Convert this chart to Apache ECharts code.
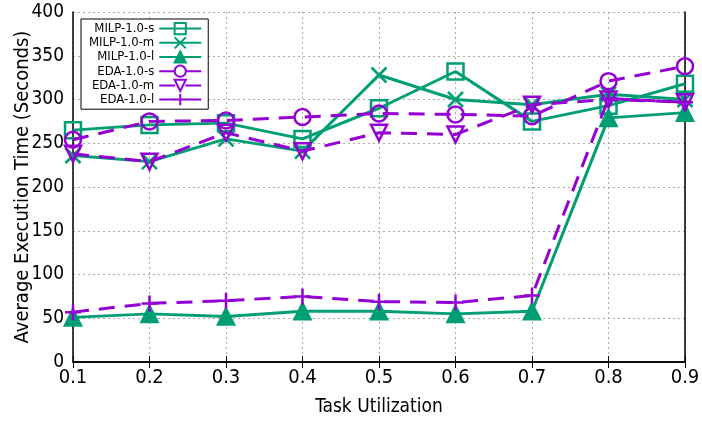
<!DOCTYPE html>
<html>
<head>
<meta charset="utf-8">
<script src="https://cdn.jsdelivr.net/npm/echarts@6/dist/echarts.min.js"></script>
<style>
  html, body { margin: 0; padding: 0; background: #fff; }
  #chart { width: 702px; height: 421px; }
</style>
</head>
<body>
<div id="chart"></div>
<script>
// colours (gnuplot defaults)
const GREEN = '#009e73';
const PURPLE = '#9400d3';
const FONT = '"DejaVu Sans Condensed", "Liberation Sans Narrow", "Liberation Sans", sans-serif';

// data
const utilization = ['0.1', '0.2', '0.3', '0.4', '0.5', '0.6', '0.7', '0.8', '0.9'];
const milpS = [265, 271, 273, 255, 290, 332, 275, 293, 318];
const milpM = [236, 229, 255, 241, 328, 300, 294, 306, 300];
const milpL = [51, 55, 52, 58, 58, 55, 58, 279, 285];
const edaS = [254, 275, 276, 280, 284, 283, 281, 321, 338];
const edaM = [238, 229, 262, 241, 262, 260, 294, 300, 297];
const edaL = [57, 67, 70, 75, 69, 68, 76, 301, 297];

const CROSS = 'path://M0,0L10,10M10,0L0,10';
const PLUS = 'path://M5,0L5,10M0,5L10,5';

const makeSeries = (name, data, color, symbol, opts = {}) => ({
  name,
  type: 'line',
  data,
  symbol,
  symbolSize: opts.size || 16,
  symbolRotate: opts.rotate || 0,
  showSymbol: true,
  lineStyle: {
    color,
    width: 3,
    type: opts.dashed ? [16, 10] : 'solid'
  },
  itemStyle: {
    color: opts.filled ? color : 'rgba(0,0,0,0)',
    borderColor: color,
    borderWidth: 2.5
  },
  emphasis: { disabled: true },
  z: opts.z || 2
});

const chart = echarts.init(document.getElementById('chart'));

const tickStyle = { inside: true, length: 6, lineStyle: { color: '#000', width: 1 } };
const lineBlack = { show: true, lineStyle: { color: '#000', width: 1.5 } };

const option = {
  backgroundColor: '#fff',
  animation: false,
  grid: { left: 73, right: 17, top: 12, bottom: 59, outerBoundsMode: 'none', containLabel: false },
  legend: {
    orient: 'vertical',
    left: 81,
    top: 19,
    align: 'right',
    padding: [3, 6, 3, 8],
    itemGap: 1,
    itemWidth: 42,
    itemHeight: 14,
    borderColor: '#000',
    borderWidth: 1,
    backgroundColor: '#fff',
    textStyle: {
      fontFamily: FONT,
      fontSize: 13,
      color: '#000',
      width: 66,
      align: 'right'
    },
    data: ['MILP-1.0-s', 'MILP-1.0-m', 'MILP-1.0-l', 'EDA-1.0-s', 'EDA-1.0-m', 'EDA-1.0-l']
  },
  xAxis: [
    {
      type: 'category',
      data: utilization,
      boundaryGap: false,
      name: 'Task Utilization',
      nameLocation: 'middle',
      nameGap: 36,
      nameMoveOverlap: false,
      nameTextStyle: { fontFamily: FONT, fontSize: 19, color: '#000' },
      axisLine: lineBlack,
      axisTick: { ...tickStyle, interval: 0 },
      axisLabel: { fontFamily: FONT, fontSize: 20, color: '#000', margin: 6, interval: 0 },
      splitLine: { show: true, interval: 0, lineStyle: { color: '#aaa', type: [2, 3] } }
    },
    {
      type: 'category',
      data: utilization,
      boundaryGap: false,
      position: 'top',
      axisLine: lineBlack,
      axisTick: { ...tickStyle, interval: 0 },
      axisLabel: { show: false },
      splitLine: { show: false }
    }
  ],
  yAxis: [
    {
      type: 'value',
      min: 0,
      max: 400,
      interval: 50,
      name: 'Average Execution Time (Seconds)',
      nameLocation: 'middle',
      nameGap: 40,
      nameMoveOverlap: false,
      nameTextStyle: { fontFamily: FONT, fontSize: 20, color: '#000' },
      axisLine: lineBlack,
      axisTick: tickStyle,
      axisLabel: { fontFamily: FONT, fontSize: 19, color: '#000', margin: 9 },
      splitLine: { show: true, lineStyle: { color: '#aaa', type: [2, 3] } }
    },
    {
      type: 'value',
      min: 0,
      max: 400,
      interval: 50,
      position: 'right',
      axisLine: lineBlack,
      axisTick: tickStyle,
      axisLabel: { show: false },
      splitLine: { show: false }
    }
  ],
  series: [
    makeSeries('MILP-1.0-s', milpS, GREEN, 'rect'),
    makeSeries('MILP-1.0-m', milpM, GREEN, CROSS, { size: 15 }),
    makeSeries('MILP-1.0-l', milpL, GREEN, 'triangle', { filled: true }),
    makeSeries('EDA-1.0-s', edaS, PURPLE, 'circle', { dashed: true, z: 3 }),
    makeSeries('EDA-1.0-m', edaM, PURPLE, 'triangle', { dashed: true, rotate: 180, z: 3 }),
    makeSeries('EDA-1.0-l', edaL, PURPLE, PLUS, { dashed: true, z: 3 })
  ]
};

chart.setOption(option);
</script>
</body>
</html>
